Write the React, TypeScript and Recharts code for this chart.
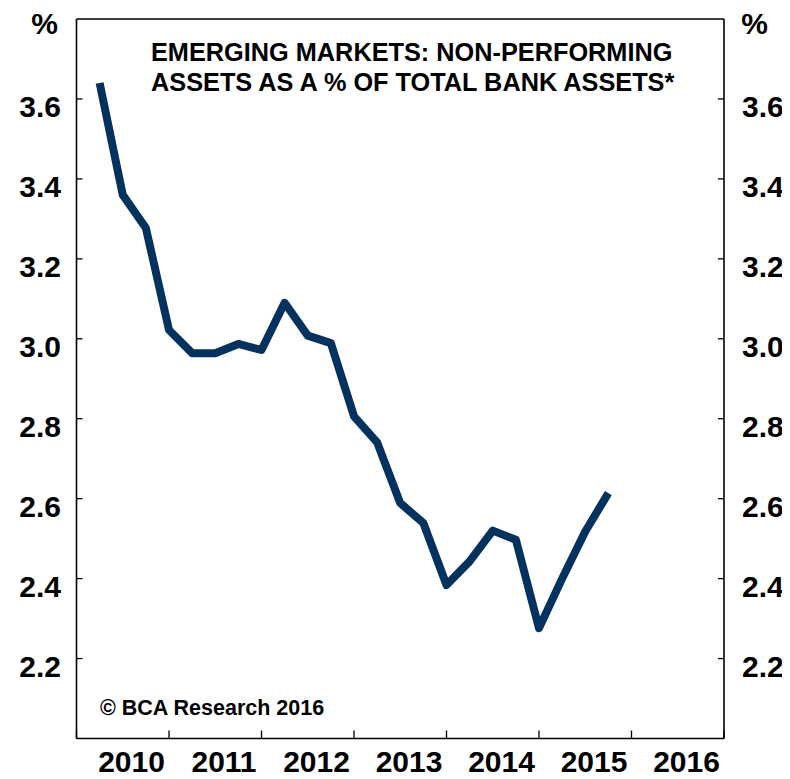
import React from "react";
import { LineChart, Line, XAxis, YAxis, ReferenceLine } from "recharts";

const quarters = [
  2010.25, 2010.5, 2010.75, 2011.0,
  2011.25, 2011.5, 2011.75, 2012.0,
  2012.25, 2012.5, 2012.75, 2013.0,
  2013.25, 2013.5, 2013.75, 2014.0,
  2014.25, 2014.5, 2014.75, 2015.0,
  2015.25, 2015.5, 2015.75,
];
const npaValues = [
  3.64, 3.36, 3.277, 3.022,
  2.964, 2.964, 2.987, 2.972,
  3.09, 3.008, 2.989, 2.806,
  2.741, 2.589, 2.539, 2.384,
  2.443, 2.52, 2.497, 2.276,
  2.4, 2.518, 2.614,
];
const yearTicks = [2010, 2011, 2012, 2013, 2014, 2015, 2016, 2017];
const yTicks = [2.2, 2.4, 2.6, 2.8, 3.0, 3.2, 3.4, 3.6];
const titleLines = [
  "EMERGING MARKETS: NON-PERFORMING",
  "ASSETS AS A % OF TOTAL BANK ASSETS*",
];
const copyright = "\u00A9 BCA Research 2016";

const data = quarters.map((q, i) => ({ t: q, v: npaValues[i] }));

const FONT = "'Liberation Sans', Arial, Helvetica, sans-serif";
const LINE_COLOR = "#04325f";

const LeftTick = (props: any) => {
  const { x, y, payload } = props;
  return (
    <g>
      <line x1={x} x2={x + 6} y1={y} y2={y} stroke="#000" strokeWidth={1.3} />
      <text x={x - 15.5} y={y + 18} textAnchor="end" fontFamily={FONT} fontWeight="bold" fontSize={30} fill="#000">
        {Number(payload.value).toFixed(1)}
      </text>
    </g>
  );
};

const RightTick = (props: any) => {
  const { x, y, payload } = props;
  return (
    <g>
      <line x1={x - 6} x2={x} y1={y} y2={y} stroke="#000" strokeWidth={1.3} />
      <text x={x + 18} y={y + 18} textAnchor="start" fontFamily={FONT} fontWeight="bold" fontSize={30} fill="#000">
        {Number(payload.value).toFixed(1)}
      </text>
    </g>
  );
};

const BottomTick = (props: any) => {
  const { x, y, payload } = props;
  const val = Number(payload.value);
  return (
    <g>
      <line x1={x} x2={x} y1={y} y2={y - 8} stroke="#000" strokeWidth={1.3} />
      {val < 2017 && (
        <text x={x + 55} y={y + 33.5} textAnchor="middle" fontFamily={FONT} fontWeight="bold" fontSize={30} fill="#000">
          {String(val)}
        </text>
      )}
    </g>
  );
};

export default function App() {
  return (
    <div style={{ position: "relative", width: 782, height: 771, background: "#fff" }}>
      <LineChart
        width={782}
        height={771}
        data={data}
        margin={{ top: 11, right: 6, bottom: 10.5, left: 8.5 }}
      >
        <XAxis
          dataKey="t"
          type="number"
          domain={[2010, 2017]}
          ticks={yearTicks}
          interval={0}
          tickSize={0}
          tickMargin={0}
          tickLine={false}
          axisLine={{ stroke: "#000", strokeWidth: 1.6 }}
          tick={<BottomTick />}
          height={30}
          allowDataOverflow
        />
        <YAxis
          yAxisId="left"
          orientation="left"
          type="number"
          domain={[2.0, 3.8]}
          ticks={yTicks}
          interval={0}
          tickSize={0}
          tickMargin={0}
          tickLine={false}
          axisLine={{ stroke: "#000", strokeWidth: 1.6 }}
          tick={<LeftTick />}
          width={60}
          allowDataOverflow
        />
        <YAxis
          yAxisId="right"
          orientation="right"
          type="number"
          domain={[2.0, 3.8]}
          ticks={yTicks}
          interval={0}
          tickSize={0}
          tickMargin={0}
          tickLine={false}
          axisLine={{ stroke: "#000", strokeWidth: 1.6 }}
          tick={<RightTick />}
          width={60}
          allowDataOverflow
        />
        <ReferenceLine yAxisId="left" y={3.8} stroke="#000" strokeWidth={1.6} />
        <Line
          yAxisId="left"
          type="linear"
          dataKey="v"
          stroke={LINE_COLOR}
          strokeWidth={8}
          strokeLinejoin="round"
          strokeLinecap="butt"
          dot={false}
          activeDot={false}
          isAnimationActive={false}
        />
      </LineChart>
      <svg
        width={782}
        height={771}
        style={{ position: "absolute", left: 0, top: 0, pointerEvents: "none", overflow: "visible" }}
      >
        <text x={36.5} y={26} textAnchor="middle" fontFamily={FONT} fontWeight="bold" fontSize={30} fill="#000">%</text>
        <text x={746.5} y={26} textAnchor="middle" fontFamily={FONT} fontWeight="bold" fontSize={30} fill="#000">%</text>
        {titleLines.map((t, i) => (
          <text key={i} x={143} y={53 + i * 30} fontFamily={FONT} fontWeight="bold" fontSize={25.3} fill="#000">{t}</text>
        ))}
        <text x={92} y={707} fontFamily={FONT} fontWeight="bold" fontSize={21.5} fill="#000">{copyright}</text>
      </svg>
    </div>
  );
}
